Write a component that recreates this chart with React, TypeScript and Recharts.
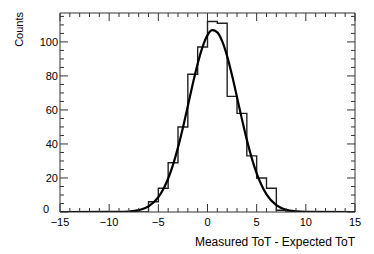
import { LineChart, Line, XAxis, YAxis } from 'recharts';

// bin low edges, 1 unit wide, last entry closes the range
const binEdges = [
  -15, -14, -13, -12, -11, -10, -9, -8, -7, -6, -5, -4, -3, -2, -1,
  0, 1, 2, 3, 4, 5, 6, 7, 8, 9, 10, 11, 12, 13, 14, 15,
];
const binCounts = [
  0, 0, 0, 0, 0, 0, 0, 0, 0, 6, 14, 29, 50, 81, 97,
  112, 111, 68, 58, 33, 20, 14, 1, 0, 0, 0, 0, 0, 0, 0, 0,
];

// gaussian fit
const fitX = [
  -15, -10, -9, -8, -7, -6, -5, -4.5, -4, -3.5, -3, -2.5, -2, -1.5, -1, -0.5,
  0, 0.5, 1, 1.5, 2, 2.5, 3, 3.5, 4, 4.5, 5, 5.5, 6, 7, 8, 9, 10, 15,
];
const fitY = [
  0, 0.1, 0.1, 0.3, 1.1, 3.3, 8.7, 13.4, 19.7, 27.9, 38, 49.6, 62.3, 75.2, 87.2, 97.1,
  104, 106.9, 105.6, 100.3, 91.5, 80.2, 67.5, 54.6, 42.4, 31.7, 22.7, 15.7, 10.4, 4, 1.3, 0.4, 0.1, 0,
];

const xTicks = [
  -15, -14, -13, -12, -11, -10, -9, -8, -7, -6, -5, -4, -3, -2, -1,
  0, 1, 2, 3, 4, 5, 6, 7, 8, 9, 10, 11, 12, 13, 14, 15,
];
const yTicks = [0, 5, 10, 15, 20, 25, 30, 35, 40, 45, 50, 55, 60, 65, 70, 75, 80, 85, 90, 95, 100, 105, 110, 115];

const histData = binEdges.map((x, i) => ({ x, y: binCounts[i] }));
const fitData = fitX.map((x, i) => ({ x, y: fitY[i] }));

const FONT = '"Liberation Sans", Arial, sans-serif';
const AXIS = '#333';

const fmt = (v: number) => (v < 0 ? `\u2212${-v}` : `${v}`);

function BottomTick({ x, y, payload }: any) {
  const major = payload.value % 5 === 0;
  return (
    <g>
      <line x1={x} y1={y} x2={x} y2={y - (major ? 8 : 4)} stroke={AXIS} />
      {major && (
        <text x={x} y={y + 14} textAnchor="middle" fontSize={11} fontFamily={FONT} fill="#000">
          {fmt(payload.value)}
        </text>
      )}
    </g>
  );
}

function TopTick({ x, y, payload }: any) {
  const major = payload.value % 5 === 0;
  return <line x1={x} y1={y} x2={x} y2={y + (major ? 8 : 4)} stroke={AXIS} />;
}

function LeftTick({ x, y, payload }: any) {
  const major = payload.value % 20 === 0;
  const zero = payload.value === 0;
  return (
    <g>
      <line x1={x} y1={y} x2={x + (major ? 8 : 4)} y2={y} stroke={AXIS} />
      {major && (
        <text
          x={zero ? x - 11 : x - 2}
          y={zero ? y + 1 : y + 4}
          textAnchor="end"
          fontSize={11}
          fontFamily={FONT}
          fill="#000"
        >
          {payload.value}
        </text>
      )}
    </g>
  );
}

function RightTick({ x, y, payload }: any) {
  const major = payload.value % 20 === 0;
  return <line x1={x} y1={y} x2={x - (major ? 8 : 4)} y2={y} stroke={AXIS} />;
}

function XTitle({ viewBox }: any) {
  return (
    <text x={viewBox.x + viewBox.width} y={viewBox.y + 34} textAnchor="end" fontSize={12} fontFamily={FONT} fill="#000">
      Measured ToT - Expected ToT
    </text>
  );
}

function YTitle({ viewBox }: any) {
  const tx = viewBox.x - 36;
  const ty = viewBox.y - 1;
  return (
    <text x={tx} y={ty} transform={`rotate(-90 ${tx} ${ty})`} textAnchor="end" fontSize={11} fontFamily={FONT} fill="#000">
      Counts
    </text>
  );
}

export default function App() {
  return (
    <div style={{ width: 374, height: 254, background: '#fff' }}>
      <style>{'body{margin:0}'}</style>
      <LineChart width={374} height={254} margin={{ top: 12, right: 18, bottom: 41, left: 59 }}>
        <XAxis
          xAxisId="bottom"
          dataKey="x"
          type="number"
          domain={[-15, 15]}
          ticks={xTicks}
          interval={0}
          height={1}
          tickSize={0}
          tickMargin={0}
          axisLine={{ stroke: AXIS }}
          tickLine={false}
          tick={BottomTick}
          label={XTitle}
          allowDataOverflow
        />
        <XAxis
          xAxisId="top"
          orientation="top"
          dataKey="x"
          type="number"
          domain={[-15, 15]}
          ticks={xTicks}
          interval={0}
          height={1}
          tickSize={0}
          tickMargin={0}
          axisLine={{ stroke: AXIS }}
          tickLine={false}
          tick={TopTick}
          allowDataOverflow
        />
        <YAxis
          yAxisId="left"
          type="number"
          domain={[0, 117]}
          ticks={yTicks}
          interval={0}
          width={1}
          tickSize={0}
          tickMargin={0}
          axisLine={{ stroke: AXIS }}
          tickLine={false}
          tick={LeftTick}
          label={YTitle}
          allowDataOverflow
        />
        <YAxis
          yAxisId="right"
          orientation="right"
          type="number"
          domain={[0, 117]}
          ticks={yTicks}
          interval={0}
          width={1}
          tickSize={0}
          tickMargin={0}
          axisLine={{ stroke: AXIS }}
          tickLine={false}
          tick={RightTick}
          allowDataOverflow
        />
        <Line
          xAxisId="bottom"
          yAxisId="left"
          data={histData}
          dataKey="y"
          type="stepAfter"
          stroke="#222"
          strokeWidth={1.4}
          dot={false}
          isAnimationActive={false}
        />
        <Line
          xAxisId="bottom"
          yAxisId="left"
          data={fitData}
          dataKey="y"
          type="monotone"
          stroke="#000"
          strokeWidth={2.2}
          dot={false}
          isAnimationActive={false}
        />
      </LineChart>
    </div>
  );
}
